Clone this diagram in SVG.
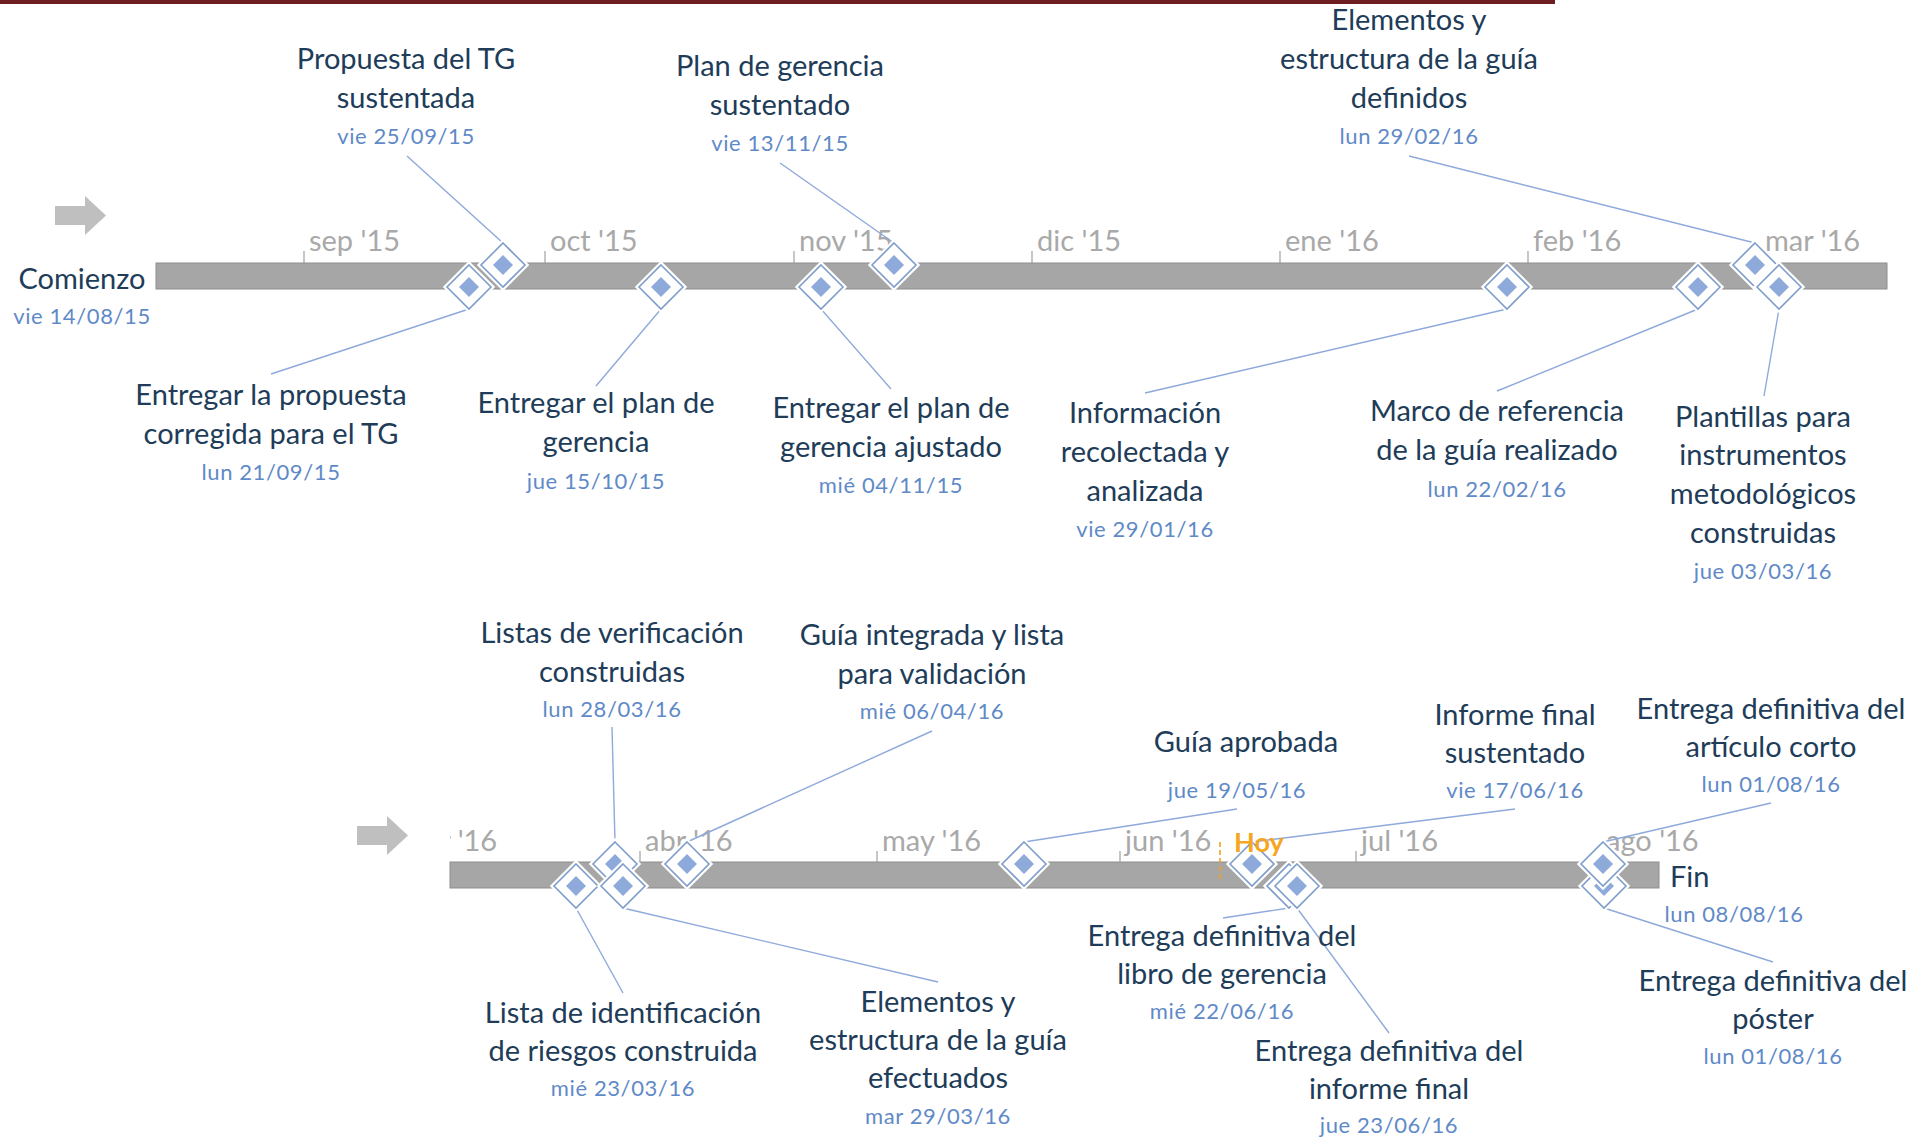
<svg xmlns="http://www.w3.org/2000/svg" xmlns:xlink="http://www.w3.org/1999/xlink" width="1916" height="1139" viewBox="0 0 1916 1139">
<style>
.lbl{font-family:Lato,"Liberation Sans",sans-serif;font-size:29px;fill:#203C58;text-anchor:middle}
.dt{font-family:Lato,"Liberation Sans",sans-serif;font-size:22px;fill:#5F8AC7;text-anchor:middle;letter-spacing:0.6px}
.mo{font-family:Lato,"Liberation Sans",sans-serif;font-size:29px;fill:#A9A9A9}
.tick{stroke:#A0A0A0;stroke-width:1.2}
.bar{fill:#A6A6A6;stroke:#8E8E8E;stroke-width:1}
.con{stroke:#8EA9DB;stroke-width:1.4;fill:none}
.arrow{fill:#BFBFBF}
</style>
<defs>
<g id="ms">
<polygon points="0,-22 22,0 0,22 -22,0" fill="#fff" stroke="#fff" stroke-width="6"/>
<polygon points="0,-22 22,0 0,22 -22,0" fill="#fff" stroke="#7F9DCC" stroke-width="1.6"/>
<polygon points="0,-10 10,0 0,10 -10,0" fill="#8EAADB"/>
</g>
<clipPath id="clip2"><rect x="450" y="800" width="1300" height="100"/></clipPath>
</defs>
<rect x="0" y="0" width="1916" height="1139" fill="#fff"/>
<rect x="0" y="0" width="1555" height="4" fill="#6E1E22"/>

<g id="timeline1">
<polygon class="arrow" points="55,206 85,206 85,196 106,215.5 85,235 85,225 55,225"/>
<rect class="bar" x="156" y="263" width="1731" height="26"/>
<line class="tick" x1="304" y1="251" x2="304" y2="263"/>
<line class="tick" x1="545" y1="251" x2="545" y2="263"/>
<line class="tick" x1="794" y1="251" x2="794" y2="263"/>
<line class="tick" x1="1032" y1="251" x2="1032" y2="263"/>
<line class="tick" x1="1280" y1="251" x2="1280" y2="263"/>
<line class="tick" x1="1528" y1="251" x2="1528" y2="263"/>
<line class="tick" x1="1760" y1="251" x2="1760" y2="263"/>
<text class="mo" x="309" y="251">sep '15</text>
<text class="mo" x="550" y="251">oct '15</text>
<text class="mo" x="799" y="251">nov '15</text>
<text class="mo" x="1037" y="251">dic '15</text>
<text class="mo" x="1285" y="251">ene '16</text>
<text class="mo" x="1533" y="251">feb '16</text>
<text class="mo" x="1765" y="251">mar '16</text>
</g>

<g id="timeline2">
<polygon class="arrow" points="357,826 387,826 387,816 408,835.5 387,855 387,845 357,845"/>
<rect class="bar" x="450" y="862" width="1209" height="26"/>
<line class="tick" x1="640" y1="851" x2="640" y2="862"/>
<line class="tick" x1="877" y1="851" x2="877" y2="862"/>
<line class="tick" x1="1120" y1="851" x2="1120" y2="862"/>
<line class="tick" x1="1356" y1="851" x2="1356" y2="862"/>
<line class="tick" x1="1601" y1="851" x2="1601" y2="862"/>
<text class="mo" x="402" y="851" clip-path="url(#clip2)">mar '16</text>
<text class="mo" x="645" y="851">abr '16</text>
<text class="mo" x="882" y="851">may '16</text>
<text class="mo" x="1125" y="851">jun '16</text>
<text class="mo" x="1361" y="851">jul '16</text>
<text class="mo" x="1606" y="851">ago '16</text>
</g>

<g id="connectors">
<line class="con" x1="407" y1="156" x2="503" y2="243"/>
<line class="con" x1="780" y1="163" x2="894" y2="243"/>
<line class="con" x1="1409" y1="156" x2="1755" y2="243"/>
<line class="con" x1="271" y1="374" x2="469" y2="309"/>
<line class="con" x1="596" y1="386" x2="661" y2="309"/>
<line class="con" x1="891" y1="389" x2="821" y2="309"/>
<line class="con" x1="1145" y1="393" x2="1507" y2="309"/>
<line class="con" x1="1497" y1="391" x2="1698" y2="309"/>
<line class="con" x1="1764" y1="396" x2="1779" y2="309"/>
<line class="con" x1="612" y1="727" x2="615" y2="842"/>
<line class="con" x1="932" y1="731" x2="687" y2="842"/>
<line class="con" x1="1237" y1="809" x2="1024" y2="842"/>
<line class="con" x1="1515" y1="809" x2="1252" y2="842"/>
<line class="con" x1="1771" y1="803" x2="1603" y2="842"/>
<line class="con" x1="623" y1="993" x2="576" y2="908"/>
<line class="con" x1="938" y1="982" x2="623" y2="908"/>
<line class="con" x1="1223" y1="918" x2="1289" y2="908"/>
<line class="con" x1="1389" y1="1033" x2="1297" y2="908"/>
<line class="con" x1="1773" y1="962" x2="1604" y2="908"/>
</g>

<g id="start">
<text class="lbl" x="82" y="289">Comienzo</text>
<text class="dt" x="82" y="324">vie 14/08/15</text>
</g>

<g id="m-entregar-propuesta">
<use xlink:href="#ms" x="469" y="287"/>
<text class="lbl" x="271" y="405">Entregar la propuesta</text>
<text class="lbl" x="271" y="444">corregida para el TG</text>
<text class="dt" x="271" y="480">lun 21/09/15</text>
</g>
<g id="m-propuesta-sustentada">
<use xlink:href="#ms" x="503" y="265"/>
<text class="lbl" x="406" y="69">Propuesta del TG</text>
<text class="lbl" x="406" y="108">sustentada</text>
<text class="dt" x="406" y="144">vie 25/09/15</text>
</g>
<g id="m-entregar-plan">
<use xlink:href="#ms" x="661" y="287"/>
<text class="lbl" x="596" y="413">Entregar el plan de</text>
<text class="lbl" x="596" y="452">gerencia</text>
<text class="dt" x="596" y="489">jue 15/10/15</text>
</g>
<g id="m-plan-ajustado">
<use xlink:href="#ms" x="821" y="287"/>
<text class="lbl" x="891" y="418">Entregar el plan de</text>
<text class="lbl" x="891" y="457">gerencia ajustado</text>
<text class="dt" x="891" y="493">mié 04/11/15</text>
</g>
<g id="m-plan-sustentado">
<use xlink:href="#ms" x="894" y="265"/>
<text class="lbl" x="780" y="76">Plan de gerencia</text>
<text class="lbl" x="780" y="115">sustentado</text>
<text class="dt" x="780" y="151">vie 13/11/15</text>
</g>
<g id="m-informacion">
<use xlink:href="#ms" x="1507" y="287"/>
<text class="lbl" x="1145" y="423">Información</text>
<text class="lbl" x="1145" y="462">recolectada y</text>
<text class="lbl" x="1145" y="501">analizada</text>
<text class="dt" x="1145" y="537">vie 29/01/16</text>
</g>
<g id="m-marco">
<use xlink:href="#ms" x="1698" y="287"/>
<text class="lbl" x="1497" y="421">Marco de referencia</text>
<text class="lbl" x="1497" y="460">de la guía realizado</text>
<text class="dt" x="1497" y="497">lun 22/02/16</text>
</g>
<g id="m-elementos-definidos">
<use xlink:href="#ms" x="1755" y="265"/>
<text class="lbl" x="1409" y="30">Elementos y</text>
<text class="lbl" x="1409" y="69">estructura de la guía</text>
<text class="lbl" x="1409" y="108">definidos</text>
<text class="dt" x="1409" y="144">lun 29/02/16</text>
</g>
<g id="m-plantillas">
<use xlink:href="#ms" x="1779" y="287"/>
<text class="lbl" x="1763" y="427">Plantillas para</text>
<text class="lbl" x="1763" y="465">instrumentos</text>
<text class="lbl" x="1763" y="504">metodológicos</text>
<text class="lbl" x="1763" y="543">construidas</text>
<text class="dt" x="1763" y="579">jue 03/03/16</text>
</g>

<g id="m-lista-riesgos">
<use xlink:href="#ms" x="576" y="886"/>
<text class="lbl" x="623" y="1023">Lista de identificación</text>
<text class="lbl" x="623" y="1061">de riesgos construida</text>
<text class="dt" x="623" y="1096">mié 23/03/16</text>
</g>
<g id="m-listas-verificacion">
<use xlink:href="#ms" x="615" y="864"/>
<text class="lbl" x="612" y="643">Listas de verificación</text>
<text class="lbl" x="612" y="682">construidas</text>
<text class="dt" x="612" y="717">lun 28/03/16</text>
</g>
<g id="m-elementos-efectuados">
<use xlink:href="#ms" x="623" y="886"/>
<text class="lbl" x="938" y="1012">Elementos y</text>
<text class="lbl" x="938" y="1050">estructura de la guía</text>
<text class="lbl" x="938" y="1088">efectuados</text>
<text class="dt" x="938" y="1124">mar 29/03/16</text>
</g>
<g id="m-guia-integrada">
<use xlink:href="#ms" x="687" y="864"/>
<text class="lbl" x="932" y="645">Guía integrada y lista</text>
<text class="lbl" x="932" y="684">para validación</text>
<text class="dt" x="932" y="719">mié 06/04/16</text>
</g>
<g id="m-guia-aprobada">
<use xlink:href="#ms" x="1024" y="864"/>
<text class="lbl" x="1246" y="752">Guía aprobada</text>
<text class="dt" x="1237" y="798">jue 19/05/16</text>
</g>
<g id="m-informe-sustentado">
<use xlink:href="#ms" x="1252" y="864"/>
<text class="lbl" x="1515" y="725">Informe final</text>
<text class="lbl" x="1515" y="763">sustentado</text>
<text class="dt" x="1515" y="798">vie 17/06/16</text>
</g>
<g id="m-libro">
<use xlink:href="#ms" x="1289" y="886"/>
<text class="lbl" x="1222" y="946">Entrega definitiva del</text>
<text class="lbl" x="1222" y="984">libro de gerencia</text>
<text class="dt" x="1222" y="1019">mié 22/06/16</text>
</g>
<g id="m-informe-final">
<use xlink:href="#ms" x="1297" y="886"/>
<text class="lbl" x="1389" y="1061">Entrega definitiva del</text>
<text class="lbl" x="1389" y="1099">informe final</text>
<text class="dt" x="1389" y="1133">jue 23/06/16</text>
</g>
<g id="m-poster">
<use xlink:href="#ms" x="1604" y="886"/>
<text class="lbl" x="1773" y="991">Entrega definitiva del</text>
<text class="lbl" x="1773" y="1029">póster</text>
<text class="dt" x="1773" y="1064">lun 01/08/16</text>
</g>
<g id="m-articulo">
<use xlink:href="#ms" x="1603" y="864"/>
<text class="lbl" x="1771" y="719">Entrega definitiva del</text>
<text class="lbl" x="1771" y="757">artículo corto</text>
<text class="dt" x="1771" y="792">lun 01/08/16</text>
</g>
<g id="end">
<text class="lbl" x="1670" y="887" style="text-anchor:start">Fin</text>
<text class="dt" x="1734" y="922">lun 08/08/16</text>
</g>
<g id="today">
<line x1="1220" y1="842" x2="1220" y2="880" stroke="#F4A020" stroke-width="1.6" stroke-dasharray="5,3"/>
<text x="1234" y="852" font-family="Lato,'Liberation Sans',sans-serif" font-size="27" font-weight="bold" fill="#F5A623">Hoy</text>
</g>
</svg>
